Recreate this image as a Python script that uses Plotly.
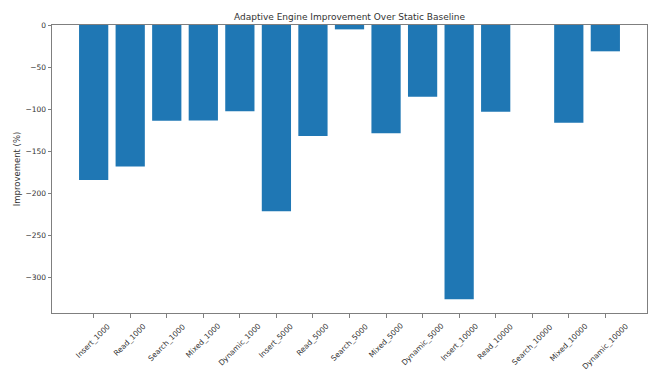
import plotly.graph_objects as go

# Workload / dataset-size combinations
categories = [
    "Insert_1000", "Read_1000", "Search_1000", "Mixed_1000", "Dynamic_1000",
    "Insert_5000", "Read_5000", "Search_5000", "Mixed_5000", "Dynamic_5000",
    "Insert_10000", "Read_10000", "Search_10000", "Mixed_10000", "Dynamic_10000",
]
# Improvement of the adaptive engine relative to the static baseline (%)
improvement = [
    -184.3, -168.4, -113.9, -113.5, -102.7,
    -221.4, -132.1, -5.2, -128.6, -85.3,
    -326.2, -103.2, 0.0, -116.3, -31.3,
]
y_ticks = [0, -50, -100, -150, -200, -250, -300]

FONT = "DejaVu Sans"
BAR_COLOR = "#1f77b4"
AXIS_COLOR = "#7f7f7f"

x_idx = list(range(len(categories)))
width = 0.8
pad = (len(categories) - 1 + width) * 0.05
x_range = [-width / 2 - pad, len(categories) - 1 + width / 2 + pad]
y_min = min(improvement)
y_range = [y_min * 1.05, 0]

fig = go.Figure(
    go.Bar(
        x=x_idx,
        y=improvement,
        width=width,
        marker=dict(color=BAR_COLOR, line=dict(width=0)),
        hovertext=categories,
    )
)

# Rotated category labels, centred under each tick like the classic style
for i, name in enumerate(categories):
    fig.add_annotation(
        x=i, y=0, xref="x", yref="paper",
        text=name, showarrow=False, textangle=-45,
        xanchor="center", yanchor="top", yshift=-6,
        font=dict(family=FONT, size=7.5, color="#333333"),
    )

fig.update_layout(
    width=650, height=374,
    margin=dict(l=52, r=3, t=25, b=61),
    paper_bgcolor="white",
    plot_bgcolor="white",
    showlegend=False,
    font=dict(family=FONT, color="#333333"),
    title=dict(
        text="Adaptive Engine Improvement Over Static Baseline",
        x=0.5, xref="paper", xanchor="center",
        y=1, yref="paper", yanchor="bottom", pad=dict(b=5),
        font=dict(family=FONT, size=9, color="#333333"),
    ),
    xaxis=dict(
        range=x_range,
        tickvals=x_idx,
        showticklabels=False,
        ticks="outside", ticklen=3.5, tickwidth=1, tickcolor=AXIS_COLOR,
        showline=True, linecolor=AXIS_COLOR, linewidth=1, mirror=True,
        showgrid=False, zeroline=False,
    ),
    yaxis=dict(
        range=y_range,
        tickvals=y_ticks,
        ticks="outside", ticklen=3.5, tickwidth=1, tickcolor=AXIS_COLOR,
        tickfont=dict(family=FONT, size=7.5, color="#333333"),
        showline=True, linecolor=AXIS_COLOR, linewidth=1, mirror=True,
        showgrid=False, zeroline=False,
        title=dict(text="Improvement (%)", standoff=3,
                   font=dict(family=FONT, size=8.5, color="#333333")),
    ),
)

fig.write_html("out.html")
